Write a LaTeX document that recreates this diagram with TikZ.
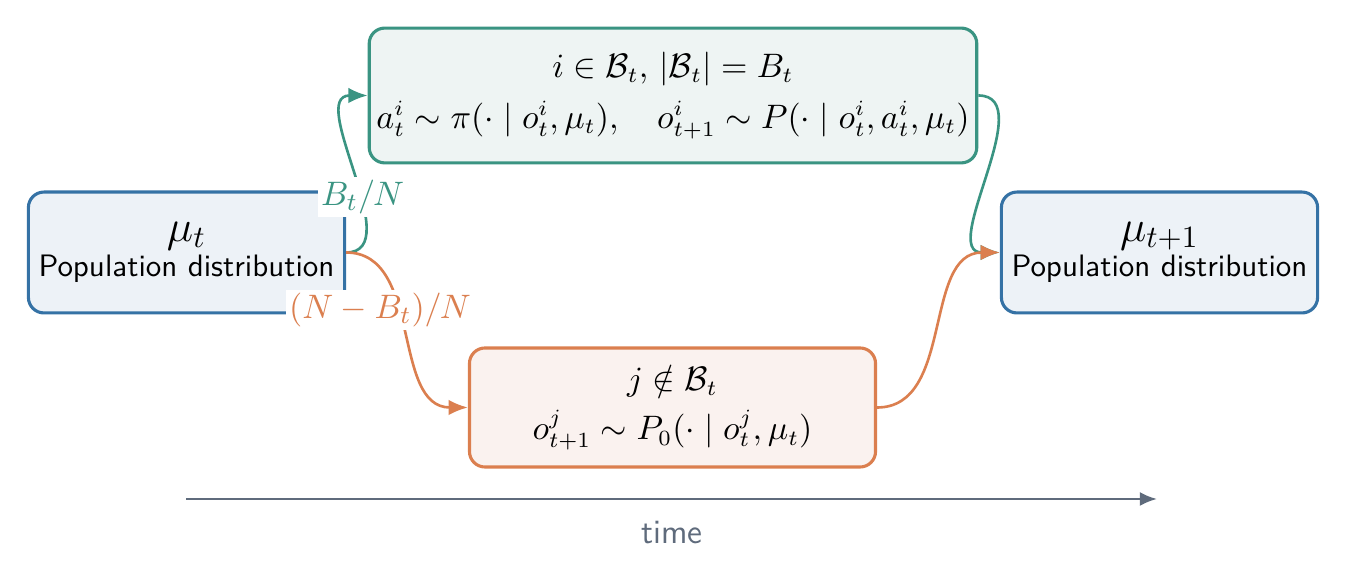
\documentclass[tikz,border=0pt]{standalone}
\usepackage{amsmath,amssymb}
\usetikzlibrary{arrows.meta}
\definecolor{cblue}{HTML}{3572A5}
\definecolor{fblue}{HTML}{EDF2F7}
\definecolor{cgreen}{HTML}{3A9482}
\definecolor{fgreen}{HTML}{EEF4F3}
\definecolor{corange}{HTML}{DB7F4F}
\definecolor{forange}{HTML}{FAF2EF}
\definecolor{cgray}{HTML}{5F6B7C}
\begin{document}
\begin{tikzpicture}[x=0.3226pt,y=-0.3226pt]
\useasboundingbox (0,0) rectangle (1345,582);
\tikzset{
  box/.style={rounded corners=5pt, line width=1pt, inner sep=0pt, align=center},
  popbox/.style={box, draw=cblue, fill=fblue, minimum width=102pt, minimum height=39pt},
  mathtext/.style={font=\fontsize{10.65}{13}\selectfont},
  conn/.style={line width=0.85pt, -{Latex[length=6.2pt,width=5pt]}},
  lab/.style={fill=white, inner sep=1pt, font=\fontsize{11}{13}\selectfont}
}
\node[popbox] (L) at (186.5,252.5) {{\Large$\mu_t$}\\[-0.5pt]\sffamily Population distribution};
\node[popbox] (R) at (1159.5,252.5) {{\Large$\mu_{t+1}$}\\[-0.5pt]\sffamily Population distribution};
\node[box, mathtext, draw=cgreen, fill=fgreen, minimum width=196pt, minimum height=43.5pt] (T) at (673,95.5)
  {$i\in\mathcal{B}_t,\,|\mathcal{B}_t|=B_t$\\[3.5pt]
   $a_t^i\sim\pi(\cdot\mid o_t^i,\mu_t),\quad o_{t+1}^i\sim P(\cdot\mid o_t^i,a_t^i,\mu_t)$};
\node[box, mathtext, draw=corange, fill=forange, minimum width=131pt, minimum height=38.4pt] (B) at (672.5,407.5)
  {$j\notin\mathcal{B}_t$\\[3pt]
   $o_{t+1}^j\sim P_0(\cdot\mid o_t^j,\mu_t)$};
\draw[conn, cgreen] (L.east) to[out=0,in=180] node[lab, pos=0.4, text=cgreen] {$B_t/N$} (T.west);
\draw[conn, corange] (L.east) to[out=0,in=180] node[lab, pos=0.4, xshift=-6.5pt, yshift=-1pt, text=corange] {$(N-B_t)/N$} (B.west);
\draw[conn, cgreen] (T.east) to[out=0,in=180] (R.west);
\draw[conn, corange] (B.east) to[out=0,in=180] (R.west);
\coordinate (t0) at (186,499);
\coordinate (t1) at (1157,499);
\draw[line width=0.8pt, cgray, -{Latex[length=5.5pt,width=4.5pt]}] (t0) -- (t1);
\node[text=cgray, font=\sffamily\fontsize{11}{13}\selectfont] (tl) at (672,533) {time};
\end{tikzpicture}
\end{document}
